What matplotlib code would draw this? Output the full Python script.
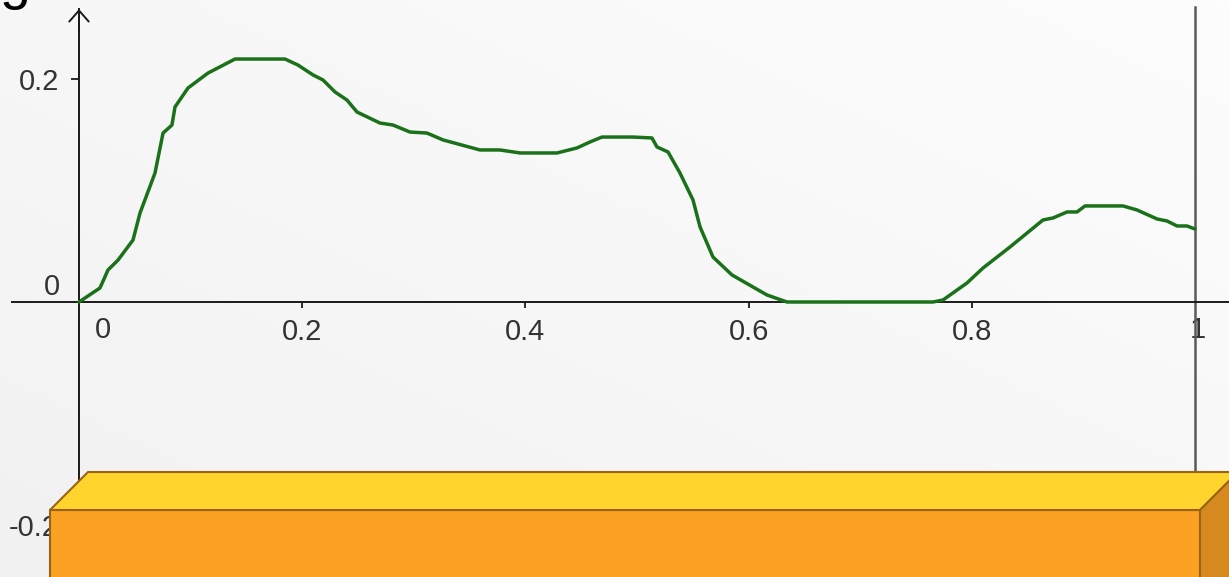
import matplotlib
matplotlib.use("Agg")
import matplotlib.pyplot as plt
from matplotlib.patches import Polygon
from matplotlib import transforms
import numpy as np

# ---- data ----
x_vals = [0, 0.0188, 0.026, 0.035, 0.0484, 0.0547, 0.0681, 0.0753, 0.0833, 0.086,
          0.0977, 0.1156, 0.1398, 0.1846, 0.1962, 0.2097, 0.2186, 0.2294, 0.2401, 0.2491,
          0.2697, 0.2814, 0.2966, 0.3118, 0.3262, 0.3593, 0.3772, 0.3952, 0.4283, 0.4462,
          0.4579, 0.4686, 0.4964, 0.5134, 0.5179, 0.5278, 0.5385, 0.5502, 0.5565, 0.5681,
          0.5851, 0.6039, 0.6165, 0.6344, 0.7652, 0.7742, 0.7957, 0.81, 0.8342, 0.8638,
          0.8728, 0.8853, 0.8943, 0.9014, 0.9355, 0.948, 0.966, 0.9749, 0.9839, 0.9928, 1.0]
y_vals = [0, 0.0126, 0.0288, 0.0377, 0.0557, 0.080, 0.1159, 0.1518, 0.159, 0.1752,
          0.1923, 0.2057, 0.2183, 0.2183, 0.2129, 0.2040, 0.1995, 0.1887, 0.1815, 0.1707,
          0.1608, 0.159, 0.1527, 0.1518, 0.1456, 0.1366, 0.1366, 0.1339, 0.1339, 0.1384,
          0.1438, 0.1482, 0.1482, 0.1474, 0.1393, 0.1348, 0.1159, 0.0916, 0.0674, 0.0404,
          0.0243, 0.0135, 0.0063, 0, 0, 0.0018, 0.0171, 0.0305, 0.0494, 0.0737,
          0.0755, 0.0809, 0.0809, 0.0863, 0.0863, 0.0827, 0.0746, 0.0728, 0.0683, 0.0683, 0.0656]
x_ticks = [0.2, 0.4, 0.6, 0.8]
x_tick_labels = ["0.2", "0.4", "0.6", "0.8"]
y_ticks = [-0.2, 0.2]
y_tick_labels = ["-0.2", "0.2"]
vline_x = 1

# ---- figure ----
W, H = 1229, 577
fig = plt.figure(figsize=(W / 100, H / 100), dpi=100)
fig.patch.set_facecolor("#f7f7f7")
ax = fig.add_axes([0, 0, 1, 1])
ax.set_facecolor("#f7f7f7")

x0px, y0px, sx, sy = 79, 302, 1116, 1113
ax.set_xlim(-x0px / sx, (W - x0px) / sx)
ax.set_ylim(-(H - y0px) / sy, y0px / sy)

# subtle background gradient
gx = np.linspace(0, 1, 200)
gy = np.linspace(0, 1, 100)
GX, GY = np.meshgrid(gx, gy)
grad = 0.5 * GX + 0.5 * GY
ax.imshow(grad, extent=[0, 1, 0, 1], transform=ax.transAxes, origin="lower",
          cmap=matplotlib.colors.LinearSegmentedColormap.from_list("bg", ["#f1f1f1", "#fdfdfd"]),
          aspect="auto", zorder=0)

font = "Liberation Sans"
lab_color = "#333333"
fs = 21

# spines as axes
for s in ["top", "right"]:
    ax.spines[s].set_visible(False)
ax.spines["bottom"].set_position("zero")
ax.spines["left"].set_position("zero")
ytop = (y0px - 9) / sy
ax.spines["bottom"].set_bounds(-(x0px - 12) / sx, (W - x0px) / sx)
ax.spines["left"].set_bounds(-(H - y0px) / sy, ytop)
for s in ["bottom", "left"]:
    ax.spines[s].set_color("#1a1a1a")
    ax.spines[s].set_linewidth(1.4)
    ax.spines[s].set_zorder(3)

ax.annotate("", xy=(0, ytop), xytext=(0, ytop - 0.02),
            arrowprops=dict(arrowstyle="->,head_length=0.57,head_width=0.5",
                            lw=1.4, color="#1a1a1a", mutation_scale=14,
                            shrinkA=0, shrinkB=0), zorder=3)

ax.set_xticks(x_ticks)
ax.set_xticklabels(x_tick_labels, fontsize=fs, family=font, color=lab_color)
ax.set_yticks(y_ticks)
ax.set_yticklabels(y_tick_labels, fontsize=fs, family=font, color=lab_color)
ax.tick_params(axis="x", direction="out", length=4.5, width=1.3, color="#1a1a1a", pad=7)
ax.tick_params(axis="y", direction="out", length=5.5, width=1.3, color="#1a1a1a", pad=9)

# origin labels and the "1" label (offset as in the reference)
t0x = transforms.offset_copy(ax.transData, fig=fig, x=24, y=-28, units="dots")
ax.text(0, 0, "0", transform=t0x, ha="center", va="center", fontsize=fs,
        family=font, color=lab_color)
t1x = transforms.offset_copy(ax.transData, fig=fig, x=3, y=-28, units="dots")
ax.text(vline_x, 0, "1", transform=t1x, ha="center", va="center", fontsize=fs,
        family=font, color=lab_color, zorder=1)
t0y = transforms.offset_copy(ax.transData, fig=fig, x=-27, y=15, units="dots")
ax.text(0, 0, "0", transform=t0y, ha="center", va="center", fontsize=fs,
        family=font, color=lab_color)

# vertical line at x = 1
ax.axvline(vline_x, ymax=(H - 7) / H, color="#5a5a5a", lw=1.8, zorder=2)

# curve
ax.plot(x_vals, y_vals, color="#1a711a", lw=2.5, zorder=4,
        solid_joinstyle="round", solid_capstyle="round")

# decorative 3D bar at the bottom (figure-pixel geometry)
def P(px, py):
    return (px / W, 1 - py / H)

edge = "#9a6418"
front = Polygon([P(50, 510), P(1200, 510), P(1200, 580), P(50, 580)], closed=True,
                facecolor="#fba124", edgecolor=edge, lw=1.5, transform=ax.transAxes,
                clip_on=False, zorder=6)
top = Polygon([P(50, 510), P(88, 472), P(1238, 472), P(1200, 510)], closed=True,
              facecolor="#ffd42d", edgecolor=edge, lw=1.5, transform=ax.transAxes,
              clip_on=False, zorder=6)
side = Polygon([P(1200, 510), P(1238, 472), P(1238, 580), P(1200, 580)], closed=True,
               facecolor="#d6891f", edgecolor=edge, lw=1.5, transform=ax.transAxes,
               clip_on=False, zorder=6)
for p in (front, top, side):
    ax.add_patch(p)

# cut-off letter at top-left
fig.text(0.0, 1 + 2 / H, "g", fontsize=40, family=font, color="black",
         ha="left", va="baseline")

fig.savefig("out.png", dpi=100, facecolor=fig.get_facecolor())
